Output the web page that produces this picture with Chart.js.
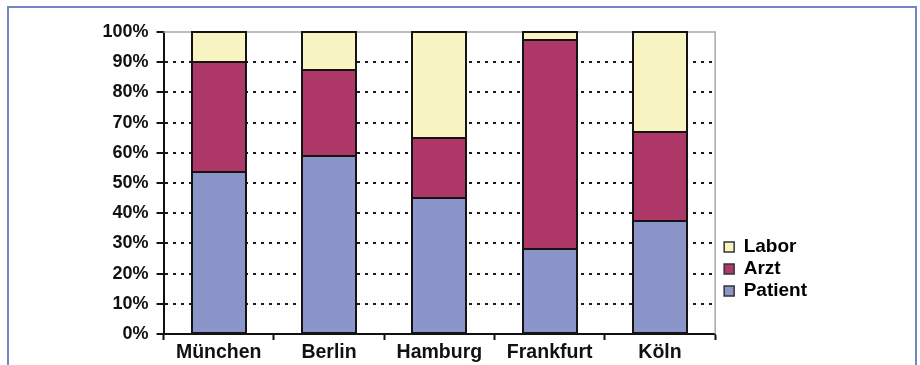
<!DOCTYPE html>
<html>
<head>
<meta charset="utf-8">
<script src="https://cdn.jsdelivr.net/npm/chart.js@4.4.1/dist/chart.umd.min.js"></script>
<style>
  html, body { margin: 0; padding: 0; background: #ffffff; overflow: hidden; }
  #frame {
    position: absolute; left: 7px; top: 6px; width: 906px; height: 420px;
    border: 2px solid #7386c4; box-sizing: content-box;
  }
  #wrap { position: absolute; left: 0; top: 0; width: 920px; height: 365px; }
</style>
</head>
<body>
<div id="frame"></div>
<div id="wrap"><canvas id="c" width="920" height="365"></canvas></div>
<script>
// Share of each party per city, in percent
const cities = ['München', 'Berlin', 'Hamburg', 'Frankfurt', 'Köln'];
const patient = [53.5, 59, 45, 28, 37.5];
const arzt = [36.5, 28.5, 20, 69.5, 29.5];
const labor = [10, 12.5, 35, 2.5, 33];
const yTicks = [0, 10, 20, 30, 40, 50, 60, 70, 80, 90, 100];

const font = 'Liberation Sans, Arial, Helvetica, sans-serif';

// Light grey frame on top and right of the plot area
const plotFrame = {
  id: 'plotFrame',
  beforeDatasetsDraw(chart) {
    const { ctx, chartArea: a } = chart;
    ctx.save();
    ctx.strokeStyle = '#a8a8a8';
    ctx.lineWidth = 1.5;
    ctx.beginPath();
    ctx.moveTo(a.left, a.top);
    ctx.lineTo(a.right, a.top);
    ctx.lineTo(a.right, a.bottom);
    ctx.stroke();
    ctx.restore();
  }
};

// Crisp black outline around every stacked segment
const segmentOutline = {
  id: 'segmentOutline',
  afterDatasetsDraw(chart) {
    const ctx = chart.ctx;
    ctx.save();
    ctx.strokeStyle = '#141414';
    ctx.lineWidth = 2;
    chart.data.datasets.forEach((d, i) => {
      chart.getDatasetMeta(i).data.forEach(el => {
        const { x, y, base, width } = el.getProps(['x', 'y', 'base', 'width'], true);
        const l = Math.round(x - width / 2), r = Math.round(x + width / 2);
        const t = Math.round(y), b = Math.round(base);
        ctx.strokeRect(l, t, r - l, b - t);
      });
    });
    ctx.restore();
  }
};

// Place the legend beside the lower half of the plot
const legendPlace = {
  id: 'legendPlace',
  afterLayout(chart) {
    const lg = chart.legend;
    const a = chart.chartArea;
    const w = lg.right - lg.left;
    lg.left = a.right + 6;
    lg.right = lg.left + w;
    lg.top = 203;
    lg.bottom = 335;
  }
};

new Chart(document.getElementById('c'), {
  type: 'bar',
  data: {
    labels: cities,
    datasets: [
      { label: 'Patient', data: patient, backgroundColor: '#8b95c9' },
      { label: 'Arzt', data: arzt, backgroundColor: '#ae3868' },
      { label: 'Labor', data: labor, backgroundColor: '#f8f5c3' }
    ].map(d => Object.assign(d, {
      borderWidth: 0, inflateAmount: 0,
      categoryPercentage: 1, barPercentage: 0.49
    }))
  },
  options: {
    responsive: false,
    animation: false,
    devicePixelRatio: 1,
    layout: { padding: { left: 94.5, right: 109, top: 32, bottom: -0.5 } },
    plugins: {
      tooltip: { enabled: false },
      legend: {
        position: 'right',
        align: 'center',
        reverse: true,
        labels: {
          boxWidth: 10, boxHeight: 10, padding: 3,
          color: '#111', font: { family: font, size: 19, weight: 'bold' },
          generateLabels(chart) {
            return chart.data.datasets.map((d, i) => ({
              text: d.label, fillStyle: d.backgroundColor, strokeStyle: '#333',
              lineWidth: 1.5, datasetIndex: i, hidden: false
            }));
          }
        }
      }
    },
    scales: {
      x: {
        stacked: true,
        grid: { drawOnChartArea: false, drawTicks: true, tickLength: 6, color: '#111', tickWidth: 2 },
        border: { display: true, color: '#111', width: 2 },
        ticks: { color: '#111', padding: 3, font: { family: font, size: 19.5, weight: 'bold', lineHeight: 1 } }
      },
      y: {
        stacked: true,
        min: 0, max: 100,
        afterBuildTicks(scale) { scale.ticks = yTicks.map(v => ({ value: v })); },
        grid: {
          color: ctx => (ctx.tick && (ctx.tick.value === 0 || ctx.tick.value === 100)) ? 'rgba(0,0,0,0)' : '#1a1a1a',
          lineWidth: 2,
          tickColor: '#111', tickLength: 7, tickWidth: 2, tickBorderDash: []
        },
        border: { display: true, color: '#111', width: 2, dash: [3, 5] },
        ticks: {
          color: '#111', padding: 8,
          font: { family: font, size: 18, weight: 'bold' },
          callback: v => v + '%'
        }
      }
    }
  },
  plugins: [plotFrame, segmentOutline, legendPlace]
});
</script>
</body>
</html>
